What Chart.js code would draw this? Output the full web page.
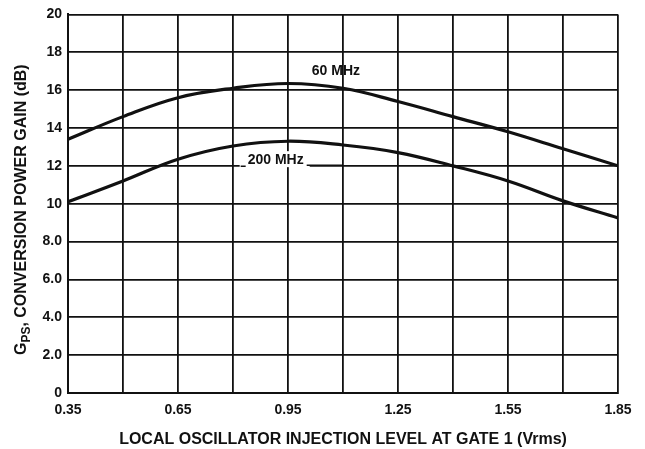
<!DOCTYPE html>
<html>
<head>
<meta charset="utf-8">
<script src="https://cdn.jsdelivr.net/npm/chart.js@4"></script>
<style>
  html, body { margin: 0; padding: 0; background: #fff; }
  #wrap { width: 645px; height: 449px; position: relative; }
</style>
</head>
<body>
<div id="wrap"><canvas id="chart"></canvas></div>
<script>
  // injection level (Vrms)
  var levels = [0.35, 0.5, 0.65, 0.8, 0.95, 1.1, 1.25, 1.4, 1.55, 1.7, 1.85];
  // conversion power gain (dB)
  var gain60 = [13.4, 14.6, 15.6, 16.1, 16.35, 16.1, 15.4, 14.6, 13.8, 12.9, 12.0];
  var gain200 = [10.1, 11.2, 12.35, 13.05, 13.3, 13.1, 12.7, 12.0, 11.2, 10.15, 9.25];

  var xTicks = [0.35, 0.5, 0.65, 0.8, 0.95, 1.1, 1.25, 1.4, 1.55, 1.7, 1.85];
  var xTickLabels = ['0.35', '', '0.65', '', '0.95', '', '1.25', '', '1.55', '', '1.85'];
  var yTicks = [0, 2, 4, 6, 8, 10, 12, 14, 16, 18, 20];
  var yTickLabels = ['0', '2.0', '4.0', '6.0', '8.0', '10', '12', '14', '16', '18', '20'];

  var FONT = '"Liberation Sans Narrow", "Liberation Sans", Arial, sans-serif';

  function toPoints(ys) {
    return levels.map(function (x, i) { return { x: x, y: ys[i] }; });
  }

  // curve labels, y-axis title with subscript
  var labelsPlugin = {
    id: 'labels',
    afterDraw: function (chart) {
      var ctx = chart.ctx;
      var xs = chart.scales.x, ys = chart.scales.y;
      ctx.save();
      ctx.fillStyle = '#111';
      ctx.strokeStyle = '#111';
      ctx.font = 'bold 14px ' + FONT;
      ctx.textBaseline = 'middle';

      // 60 MHz
      ctx.textAlign = 'left';
      ctx.fillText('60 MHz', xs.getPixelForValue(1.015), ys.getPixelForValue(17.0));

      // 200 MHz with leader line
      var lx = xs.getPixelForValue(0.84), ly = ys.getPixelForValue(12.3);
      ctx.fillStyle = '#fff';
      var w = ctx.measureText('200 MHz').width;
      ctx.fillRect(lx - 8, ly - 9, w + 14, 16);
      ctx.fillStyle = '#111';
      ctx.fillText('200 MHz', lx, ly);
      ctx.lineWidth = 1.5;
      ctx.beginPath();
      ctx.moveTo(lx - 7, ly + 6);
      ctx.lineTo(lx - 2, ly + 6);
      ctx.moveTo(lx + w + 3, ly + 5);
      ctx.lineTo(xs.getPixelForValue(1.1), ly + 5);
      ctx.stroke();

      // y-axis title
      var cy = (chart.chartArea.top + chart.chartArea.bottom) / 2 + 6;
      ctx.translate(22, cy);
      ctx.rotate(-Math.PI / 2);
      var main = ', CONVERSION POWER GAIN (dB)';
      ctx.font = 'bold 16px ' + FONT;
      var gW = ctx.measureText('G').width;
      var mW = ctx.measureText(main).width;
      ctx.font = 'bold 12px ' + FONT;
      var sW = ctx.measureText('PS').width;
      var total = gW + sW + mW;
      var x0 = -total / 2;
      ctx.textAlign = 'left';
      ctx.font = 'bold 16px ' + FONT;
      ctx.fillText('G', x0, 0);
      ctx.font = 'bold 12px ' + FONT;
      ctx.fillText('PS', x0 + gW, 5);
      ctx.font = 'bold 16px ' + FONT;
      ctx.fillText(main, x0 + gW + sW, 0);
      ctx.restore();
    }
  };

  new Chart(document.getElementById('chart'), {
    type: 'line',
    data: {
      datasets: [
        {
          label: '60 MHz',
          data: toPoints(gain60),
          borderColor: '#111',
          borderWidth: 3.2,
          pointRadius: 0,
          tension: 0.4,
          fill: false
        },
        {
          label: '200 MHz',
          data: toPoints(gain200),
          borderColor: '#111',
          borderWidth: 3.2,
          pointRadius: 0,
          tension: 0.4,
          fill: false
        }
      ]
    },
    options: {
      responsive: true,
      maintainAspectRatio: false,
      animation: false,
      layout: { padding: { top: 12, right: 27, left: 0, bottom: 0 } },
      plugins: {
        legend: { display: false },
        tooltip: { enabled: false }
      },
      scales: {
        x: {
          type: 'linear',
          min: 0.35,
          max: 1.85,
          afterBuildTicks: function (scale) {
            scale.ticks = xTicks.map(function (v) { return { value: v }; });
          },
          afterFit: function (scale) { scale.height = 56; },
          ticks: {
            color: '#111',
            font: { family: FONT, size: 14, weight: 'bold' },
            padding: 9,
            maxRotation: 0,
            autoSkip: false,
            callback: function (v, i) { return xTickLabels[i]; }
          },
          grid: { color: '#111', lineWidth: 1.8, drawTicks: false },
          border: { color: '#111', width: 2 },
          title: {
            display: true,
            text: 'LOCAL OSCILLATOR INJECTION LEVEL AT GATE 1 (Vrms)',
            color: '#111',
            font: { family: FONT, size: 16, weight: 'bold' },
            padding: { top: 0, bottom: 0 }
          }
        },
        y: {
          min: 0,
          max: 20,
          afterBuildTicks: function (scale) {
            scale.ticks = yTicks.map(function (v) { return { value: v }; });
          },
          afterFit: function (scale) { scale.width = 68; },
          ticks: {
            color: '#111',
            font: { family: FONT, size: 14, weight: 'bold' },
            padding: 6,
            callback: function (v, i) { return yTickLabels[i]; }
          },
          grid: { color: '#111', lineWidth: 1.8, drawTicks: false },
          border: { color: '#111', width: 2 }
        }
      }
    },
    plugins: [labelsPlugin]
  });
</script>
</body>
</html>
